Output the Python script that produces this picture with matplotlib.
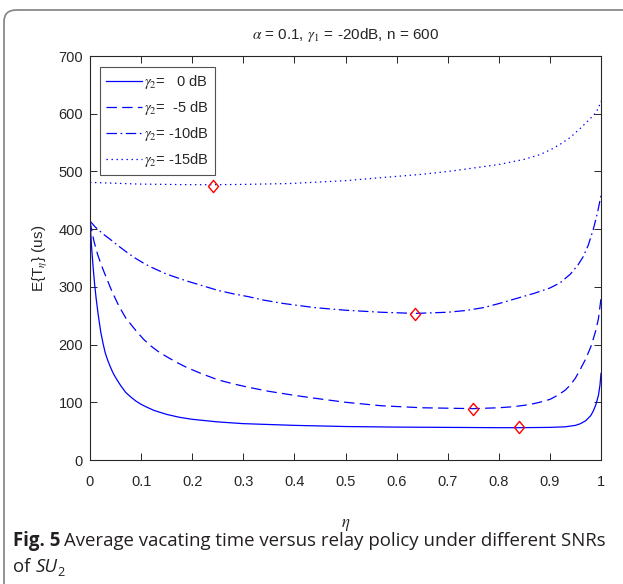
import matplotlib
matplotlib.use("Agg")
import matplotlib.pyplot as plt
from matplotlib.patches import FancyBboxPatch
from matplotlib.path import Path

plt.rcParams['font.family'] = ['Liberation Sans', 'DejaVu Sans']
plt.rcParams['mathtext.fontset'] = 'stix'
plt.rcParams['lines.scale_dashes'] = False

# ---------------- data ----------------
eta_0dB = [0, 0.003, 0.006, 0.009, 0.012, 0.016, 0.021, 0.026, 0.03, 0.035, 0.04,
           0.045, 0.05, 0.06, 0.07, 0.08, 0.09, 0.1, 0.11, 0.125, 0.15, 0.175, 0.2,
           0.25, 0.3, 0.4, 0.5, 0.6, 0.7, 0.8, 0.84, 0.9, 0.93, 0.95, 0.96, 0.97,
           0.98, 0.985, 0.99, 0.995, 0.998, 1.0]
T_0dB = [415, 370, 335, 305, 280, 252, 222, 200, 185, 172, 161,
         151, 143, 129, 117, 109, 102, 96.5, 92, 86, 79, 74, 70.5,
         66, 63, 60, 58, 57, 56.5, 56, 56, 56.5, 57.5, 60, 63, 68,
         77, 85, 96, 112, 130, 150]

eta_5dB = [0, 0.004, 0.008, 0.015, 0.022, 0.031, 0.043, 0.057, 0.07, 0.09, 0.105,
           0.12, 0.135, 0.15, 0.17, 0.19, 0.22, 0.25, 0.28, 0.31, 0.35, 0.4, 0.44,
           0.5, 0.57, 0.65, 0.75, 0.8, 0.83, 0.86, 0.88, 0.9, 0.915, 0.93, 0.94,
           0.95, 0.96, 0.97, 0.98, 0.985, 0.99, 0.995, 1.0]
T_5dB = [414, 395, 378, 356, 338, 318, 292, 266, 246, 224, 209,
         197, 187, 179, 169, 160, 149, 139, 132, 126, 119, 112, 107,
         100, 94, 90.5, 89, 90.5, 92.5, 96, 100, 105, 112, 121, 130,
         142, 158, 175, 196, 210, 225, 245, 280]

eta_10dB = [0, 0.01, 0.025, 0.04, 0.057, 0.075, 0.09, 0.105, 0.12, 0.15, 0.19,
            0.22, 0.25, 0.28, 0.31, 0.34, 0.38, 0.44, 0.5, 0.57, 0.636, 0.7,
            0.735, 0.77, 0.8, 0.835, 0.87, 0.9, 0.92, 0.94, 0.955, 0.965, 0.975,
            0.985, 0.993, 1.0]
T_10dB = [414, 404, 392, 382, 370, 358, 349, 341, 334, 322, 310,
          302, 294, 288, 283, 277, 271, 264, 259.5, 256, 254, 256,
          259, 264, 271, 280, 289, 298, 307, 322, 338, 352, 372,
          400, 428, 458]

eta_15dB = [0, 0.1, 0.2, 0.24, 0.3, 0.39, 0.5, 0.58, 0.65, 0.71, 0.8, 0.85, 0.88,
            0.9, 0.92, 0.94, 0.96, 0.975, 0.985, 0.99, 0.995, 1.0]
T_15dB = [481, 478, 477, 477, 477.5, 479, 484, 490, 495, 501, 512, 521, 529,
          537, 547, 559, 575, 588, 597, 602, 610, 622]

opt_eta = [0.8395, 0.7495, 0.636, 0.2407]
opt_T = [56.7, 89, 253.7, 474]

labels = [r'$\gamma_2$=   0 dB', r'$\gamma_2$=  -5 dB',
          r'$\gamma_2$= -10dB', r'$\gamma_2$= -15dB']
xticks = [0, 0.1, 0.2, 0.3, 0.4, 0.5, 0.6, 0.7, 0.8, 0.9, 1]
xticklabels = ['0', '0.1', '0.2', '0.3', '0.4', '0.5', '0.6', '0.7', '0.8', '0.9', '1']
yticks = [0, 100, 200, 300, 400, 500, 600, 700]

# ---------------- figure ----------------
W, H = 623, 584
fig = plt.figure(figsize=(W / 100, H / 100), dpi=100)

border = FancyBboxPatch((4 / W, -0.2), 1.2, 1.2 - 10 / H,
                        boxstyle="round,pad=0,rounding_size=0.02",
                        transform=fig.transFigure, facecolor='none',
                        edgecolor='#8a8a8a', linewidth=1.3, clip_on=False)
fig.patches.append(border)

ax = fig.add_axes([90 / W, 1 - 460 / H, 511 / W, 404 / H])
axcol = '#262626'
blue = (0, 0, 1)
lw = 0.9

series = [
    (eta_0dB, T_0dB, '-'),
    (eta_5dB, T_5dB, (0, (7.5, 3.8))),
    (eta_10dB, T_10dB, (0, (7.5, 2.6, 1.2, 2.6))),
    (eta_15dB, T_15dB, (0, (1.0, 2.6))),
]
for (x, y, ls), lab in zip(series, labels):
    ax.plot(x, y, color=blue, linestyle=ls, linewidth=lw, label=lab)

diamond = Path([(0, 1), (0.83, 0), (0, -1), (-0.83, 0), (0, 1)],
               [Path.MOVETO, Path.LINETO, Path.LINETO, Path.LINETO, Path.CLOSEPOLY])
ax.plot(opt_eta, opt_T, linestyle='none', marker=diamond, markersize=8.8,
        markerfacecolor='none', markeredgecolor='red', markeredgewidth=1.0)

ax.set_xlim(0, 1)
ax.set_ylim(0, 700)
ax.set_xticks(xticks)
ax.set_xticklabels(xticklabels)
ax.set_yticks(yticks)
ax.tick_params(direction='in', top=True, right=True, length=5, width=0.7,
               colors=axcol, labelsize=10.5)
ax.tick_params(axis='x', pad=11)
ax.tick_params(axis='y', pad=5)
for s in ax.spines.values():
    s.set_color(axcol)
    s.set_linewidth(0.8)

ax.set_xlabel(r'$\eta$', fontsize=12, color=axcol, labelpad=20)
ax.set_ylabel(r'E{T$_{\eta}$} (us)', fontsize=11, color=axcol, labelpad=6)
ax.set_title(r'$\alpha$ = 0.1, $\gamma_1$ = -20dB, n = 600', fontsize=11,
             color=axcol, pad=12)

leg = ax.legend(loc='upper left', bbox_to_anchor=(10 / 511, 1 - 11 / 404),
                fontsize=10.5, frameon=True, fancybox=False, handlelength=2.5,
                handletextpad=0.15, borderpad=0.4, labelspacing=0.55,
                borderaxespad=0)
leg.get_frame().set_edgecolor(axcol)
leg.get_frame().set_linewidth(0.8)
for t in leg.get_texts():
    t.set_color(axcol)

# ---------------- caption ----------------
cap_font = ['Open Sans', 'DejaVu Sans']
cap_size = 13.4
cap_col = '#231f20'
fig.canvas.draw()
r = fig.canvas.get_renderer()
y1 = 1 - 541 / H
y2 = 1 - 567 / H
t1 = fig.text(13 / W, y1, 'Fig. 5', fontsize=cap_size, fontweight='bold',
              family=cap_font, va='center', ha='left', color=cap_col)
bb = t1.get_window_extent(renderer=r)
fig.text(bb.x1 / W + 4 / W, y1,
         'Average vacating time versus relay policy under different SNRs',
         fontsize=cap_size, family=cap_font, va='center', ha='left', color=cap_col)
t3 = fig.text(13 / W, y2, 'of ', fontsize=cap_size, family=cap_font,
              va='center', ha='left', color=cap_col)
bb3 = t3.get_window_extent(renderer=r)
t4 = fig.text(bb3.x1 / W, y2, 'SU', fontsize=cap_size, family=cap_font,
              style='italic', va='center', ha='left', color=cap_col)
bb4 = t4.get_window_extent(renderer=r)
fig.text(bb4.x1 / W, y2 - 5 / H, '2', fontsize=cap_size * 0.68, family=cap_font,
         va='center', ha='left', color=cap_col)

fig.savefig('out.png', dpi=100)
